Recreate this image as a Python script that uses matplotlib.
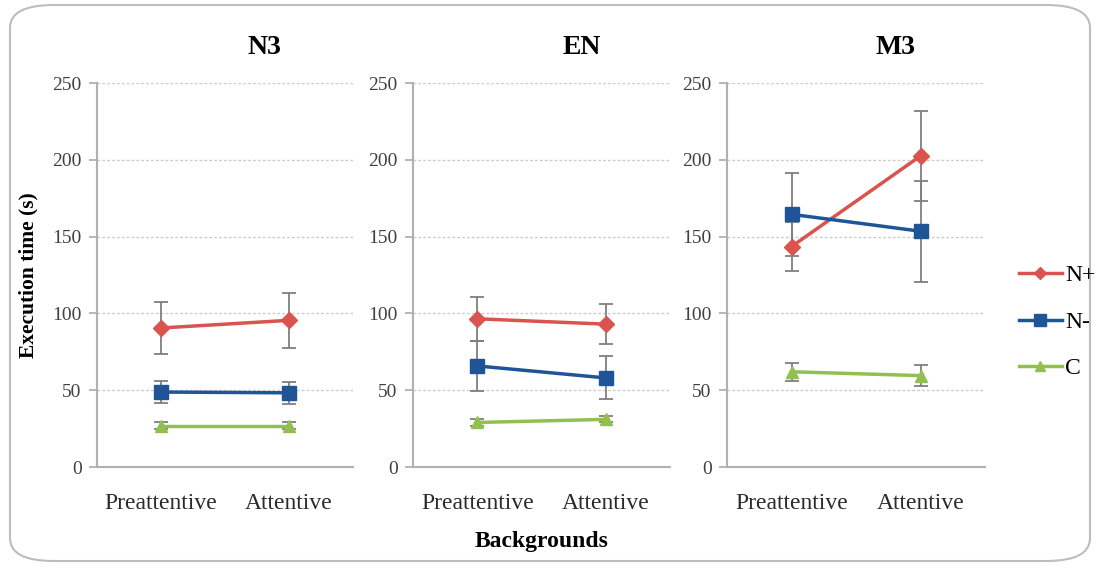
import matplotlib
matplotlib.use("Agg")
import matplotlib.pyplot as plt
from matplotlib.patches import FancyBboxPatch

categories = ["Preattentive", "Attentive"]
panels = ["N3", "EN", "M3"]
series = ["N+", "N-", "C"]

n_plus_mean = {"N3": [90.5, 95.5], "EN": [96.5, 93.0], "M3": [143.5, 202.5]}
n_plus_err = {"N3": [17, 18], "EN": [14.5, 13], "M3": [16, 29]}
n_minus_mean = {"N3": [48.8, 48.3], "EN": [65.8, 58.0], "M3": [164.5, 153.5]}
n_minus_err = {"N3": [7, 7], "EN": [16, 14], "M3": [27, 33]}
c_mean = {"N3": [27.0, 27.0], "EN": [29.0, 31.0], "M3": [62.0, 59.5]}
c_err = {"N3": [2, 2], "EN": [2, 2], "M3": [6, 7]}

yticks = [0, 50, 100, 150, 200, 250]

colors = {"N+": "#d9534f", "N-": "#1f5596", "C": "#92c050"}
markers = {"N+": "D", "N-": "s", "C": "^"}
msizes = {"N+": 8, "N-": 10, "C": 9}
means = {"N+": n_plus_mean, "N-": n_minus_mean, "C": c_mean}
errs = {"N+": n_plus_err, "N-": n_minus_err, "C": c_err}

plt.rcParams['font.family'] = ['Liberation Serif', 'DejaVu Serif']

fig = plt.figure(figsize=(10.97, 5.69), dpi=100)
W, H = 1097, 569

box = FancyBboxPatch((10 / W, 8 / H), 1080 / W, 556 / H,
                     boxstyle="round,pad=0,rounding_size=0.04",
                     transform=fig.transFigure, facecolor="white",
                     edgecolor="#bdbdbd", linewidth=1.5, zorder=-10)
fig.patches.append(box)

lefts = [97, 413, 727]
widths = [256, 257, 258]
bottom_px, top_px = 467, 83

axes = []
for i, p in enumerate(panels):
    ax = fig.add_axes([lefts[i] / W, 1 - bottom_px / H, widths[i] / W,
                       (bottom_px - top_px) / H])
    axes.append(ax)
    x = [0, 1]
    lines = []
    for s in series:
        ax.errorbar(x, means[s][p], yerr=errs[s][p], fmt="none",
                    ecolor="#7f7f7f", elinewidth=1.3, capsize=5, capthick=1.3,
                    zorder=2)
        ln, = ax.plot(x, means[s][p], color=colors[s], marker=markers[s],
                      markersize=msizes[s], linewidth=2.5, label=s, zorder=3)
        lines.append(ln)
    ax.set_xlim(-0.5, 1.5)
    ax.set_ylim(0, 250)
    ax.set_yticks(yticks)
    ax.set_xticks(x)
    ax.set_xticklabels(categories, fontsize=17, color="#2b2b2b")
    ax.tick_params(axis="y", labelsize=14, labelcolor="#404040", length=6,
                   color="#aaaaaa", width=1.2, pad=5)
    ax.tick_params(axis="x", length=0, pad=19)
    ax.grid(axis="y", linestyle=(0, (2, 1.5)), color="#cccccc", linewidth=1)
    ax.set_axisbelow(True)
    for sp in ["top", "right"]:
        ax.spines[sp].set_visible(False)
    for sp in ["left", "bottom"]:
        ax.spines[sp].set_color("#b0b0b0")
        ax.spines[sp].set_linewidth(1.5)
    ax.set_title(p, fontsize=20, fontweight="bold", pad=21, x=0.655)

axes[0].set_ylabel("Execution time (s)", fontsize=15.5, fontweight="bold",
                   labelpad=10)
axes[1].set_xlabel("Backgrounds", fontsize=17, fontweight="bold", labelpad=12)

fig.legend(lines, series, loc="center left",
           bbox_to_anchor=(1019 / W, 1 - 322 / H), frameon=False,
           fontsize=17, handlelength=1.8, labelspacing=1.05,
           handletextpad=0.15, borderpad=0, borderaxespad=0, markerscale=0.8)

fig.savefig("out.png", dpi=100)
